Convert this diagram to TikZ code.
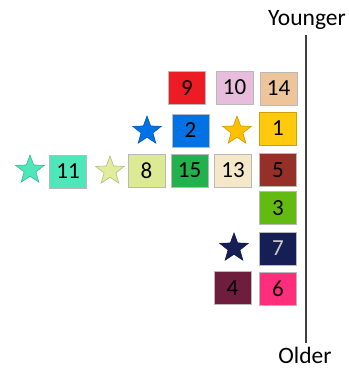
\documentclass[tikz,border=0pt]{standalone}
\usepackage{fontspec}
\setmainfont{Carlito}
\usetikzlibrary{shapes.geometric}
\definecolor{c9}{HTML}{ED1C24}
\definecolor{c10}{HTML}{E8BCDD}
\definecolor{c14}{HTML}{EEC49A}
\definecolor{c2}{HTML}{0072E3}
\definecolor{c1}{HTML}{FFC90E}
\definecolor{c11}{HTML}{4FE6BA}
\definecolor{c8}{HTML}{DDEA94}
\definecolor{c15}{HTML}{22B14C}
\definecolor{c13}{HTML}{F4E8C8}
\definecolor{c5}{HTML}{952F28}
\definecolor{c3}{HTML}{63BA10}
\definecolor{c7}{HTML}{161E56}
\definecolor{c4}{HTML}{6E1D3D}
\definecolor{c6}{HTML}{FF2E7C}
\definecolor{cy}{HTML}{FFC000}
\definecolor{clg}{HTML}{E1ED9C}
\tikzset{
  box/.style={draw=gray!55, line width=0.8pt, minimum width=37pt, minimum height=33pt, inner sep=0pt, font=\fontsize{23}{27}\selectfont},
  starnode/.style={star, star points=5, star point ratio=2.4, minimum size=30pt, inner sep=0pt, line width=0.6pt},
  lbl/.style={font=\fontsize{23.5}{28}\selectfont, inner sep=0pt}
}
\begin{document}
\begin{tikzpicture}[x=1pt,y=-1pt]
\useasboundingbox (0,0) rectangle (348,369);
% boxes
\node[box, fill=c9] (b9) at (187,88) {9};
\node[box, fill=c10] (b10) at (234.5,87.5) {10};
\node[box, fill=c14] (b14) at (278.5,88.5) {14};
\node[box, fill=c2] (b2) at (190.5,130.5) {2};
\node[box, fill=c1, draw=c1!80!black] (b1) at (278,128.5) {1};
\node[box, fill=c11] (b11) at (68,171.5) {11};
\node[box, fill=c8] (b8) at (146.5,170.5) {8};
\node[box, fill=c15] (b15) at (189.5,170.5) {15};
\node[box, fill=c13] (b13) at (233,170.5) {13};
\node[box, fill=c5] (b5) at (278,170) {5};
\node[box, fill=c3] (b3) at (278,208) {3};
\node[box, fill=c7, text=gray!40] (b7) at (278,248.5) {7};
\node[box, fill=c4] (b4) at (232.5,288) {4};
\node[box, fill=c6] (b6) at (278,289) {6};
% stars
\node[starnode, fill=c2, draw=c2!80!black] (s2) at (147,131) {};
\node[starnode, fill=cy, draw=cy!80!black] (s1) at (237,131) {};
\node[starnode, fill=c11, draw=c11!80!black] (s11) at (30,170) {};
\node[starnode, fill=clg, draw=clg!80!black] (s8) at (110,171) {};
\node[starnode, fill=c7, draw=c7!80!black] (s7) at (234,248) {};
% axis
\node[lbl] (young) at (307,20) {Younger};
\node[lbl] (old) at (305,355) {Older};
\coordinate (top) at (306,35);
\coordinate (bot) at (306,343);
\draw[line width=2pt, black!75] (top) -- (bot);
\end{tikzpicture}
\end{document}
